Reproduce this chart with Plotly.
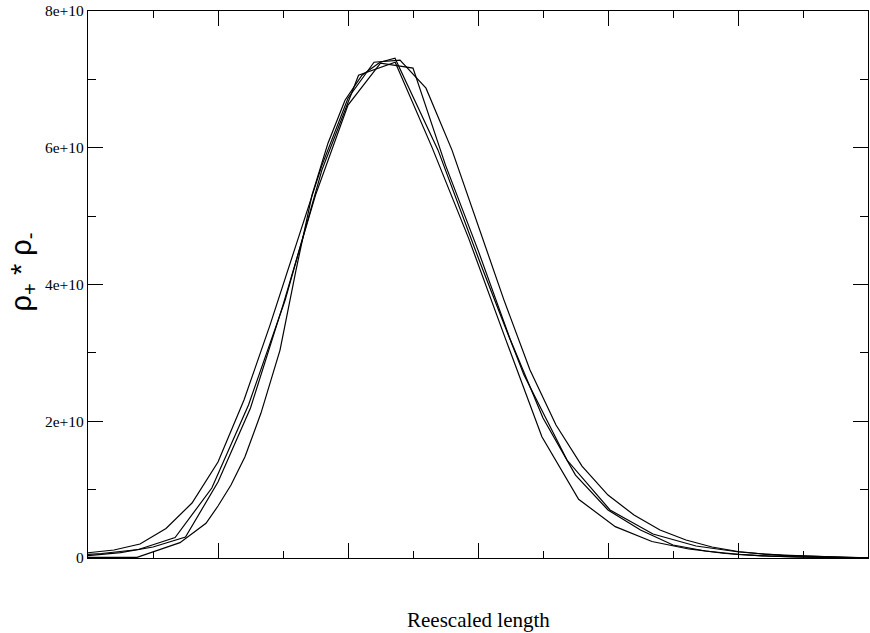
import plotly.graph_objects as go

# Rescaled length (arbitrary units) and rho+ * rho- values for four curves
x_a = [0.00, 0.04, 0.08, 0.12, 0.16, 0.20, 0.24, 0.28, 0.32, 0.36, 0.40, 0.44, 0.48, 0.52, 0.56, 0.60,
       0.64, 0.68, 0.72, 0.76, 0.80, 0.84, 0.88, 0.92, 0.96, 1.00, 1.04, 1.08, 1.12, 1.16, 1.20]
y_a = [0.077, 0.117, 0.205, 0.431, 0.804, 1.404, 2.310, 3.406, 4.576, 5.746, 6.725, 7.251, 7.281, 6.871,
       5.965, 4.868, 3.772, 2.749, 1.944, 1.345, 0.921, 0.629, 0.409, 0.263, 0.161, 0.095, 0.058, 0.037,
       0.022, 0.010, 0.004]

x_b = [0.000, 0.021, 0.0776, 0.1340, 0.1905, 0.2469, 0.3033, 0.3598, 0.4162, 0.4726, 0.5291, 0.5855,
       0.6419, 0.6983, 0.7548, 0.8112, 0.8676, 0.9241, 0.9805, 1.0369, 1.0934, 1.1498, 1.2000]
y_b = [0.054, 0.066, 0.124, 0.300, 1.023, 2.237, 3.772, 5.673, 7.061, 7.251, 6.009, 4.678, 3.216, 1.773,
       0.858, 0.459, 0.241, 0.132, 0.066, 0.032, 0.015, 0.006, 0.001]

x_c = [0.00, 0.05, 0.10, 0.15, 0.20, 0.25, 0.30, 0.35, 0.40, 0.45, 0.50, 0.55, 0.60, 0.65, 0.70, 0.75,
       0.80, 0.85, 0.90, 0.95, 1.00, 1.05, 1.10, 1.15, 1.20]
y_c = [0.034, 0.080, 0.161, 0.307, 1.111, 2.193, 3.699, 5.307, 6.623, 7.237, 7.164, 5.746, 4.503, 3.187,
       2.047, 1.213, 0.702, 0.409, 0.190, 0.102, 0.054, 0.026, 0.013, 0.006, 0.001]

x_d = [0.000, 0.0754, 0.1415, 0.1815, 0.2000, 0.2200, 0.2415, 0.2660, 0.2954, 0.3200, 0.3446, 0.3692,
       0.3954, 0.4215, 0.4492, 0.4723, 0.5385, 0.6046, 0.6708, 0.7369, 0.8031, 0.8692, 0.9354, 1.0015,
       1.0677, 1.1338, 1.2000]
y_d = [0.010, 0.010, 0.224, 0.507, 0.760, 1.067, 1.481, 2.116, 3.041, 4.211, 5.307, 6.067, 6.696, 7.061,
       7.251, 7.310, 5.965, 4.284, 2.675, 1.433, 0.702, 0.351, 0.175, 0.088, 0.037, 0.015, 0.003]

series = [(x_a, y_a), (x_b, y_b), (x_c, y_c), (x_d, y_d)]

y_tickvals = [0, 2e10, 4e10, 6e10, 8e10]
y_ticktext = ["0", "2e+10", "4e+10", "6e+10", "8e+10"]

fig = go.Figure()
for xs, ys in series:
    fig.add_trace(go.Scatter(x=xs, y=[v * 1e10 for v in ys], mode="lines",
                             line=dict(color="black", width=1.2), showlegend=False,
                             hoverinfo="skip"))

serif = "Liberation Serif, DejaVu Serif, serif"

fig.update_layout(
    width=870, height=633,
    margin=dict(l=88, r=2, t=11, b=75),
    paper_bgcolor="white", plot_bgcolor="white",
    font=dict(family=serif, color="black", size=15),
    xaxis=dict(range=[0, 1.2], showgrid=False, zeroline=False, showline=True,
               linecolor="black", linewidth=1.2, mirror="ticks",
               ticks="inside", ticklen=15, tickwidth=1.2, tickcolor="black",
               tick0=0, dtick=0.2, showticklabels=False,
               minor=dict(ticks="inside", ticklen=7, tickwidth=1.2, tickcolor="black",
                          dtick=0.1, tick0=0, showgrid=False)),
    yaxis=dict(range=[0, 8e10], showgrid=False, zeroline=False, showline=True,
               linecolor="black", linewidth=1.2, mirror="ticks",
               ticks="inside", ticklen=15, tickwidth=1.2, tickcolor="black",
               tickvals=y_tickvals, ticktext=y_ticktext,
               tickfont=dict(family=serif, size=15.5, color="black"),
               minor=dict(ticks="inside", ticklen=8, tickwidth=1.2, tickcolor="black",
                          dtick=1e10, tick0=0, showgrid=False)),
    annotations=[
        dict(text="Reescaled length", xref="paper", yref="paper", x=0.5, y=0,
             yshift=-62, xanchor="center", yanchor="middle", showarrow=False,
             font=dict(family=serif, size=21, color="black")),
        dict(text="ρ<sub>+</sub> * ρ<sub>-</sub>", xref="paper", yref="paper", x=0, y=0.5,
             xshift=-66, yshift=12, xanchor="center", yanchor="middle", textangle=-90,
             showarrow=False,
             font=dict(family="Liberation Sans, Arial, sans-serif", size=29, color="black")),
    ],
)

fig.write_html("out.html", config={"displayModeBar": False},
               post_script="document.body.style.margin='0';document.body.style.overflow='hidden';")
